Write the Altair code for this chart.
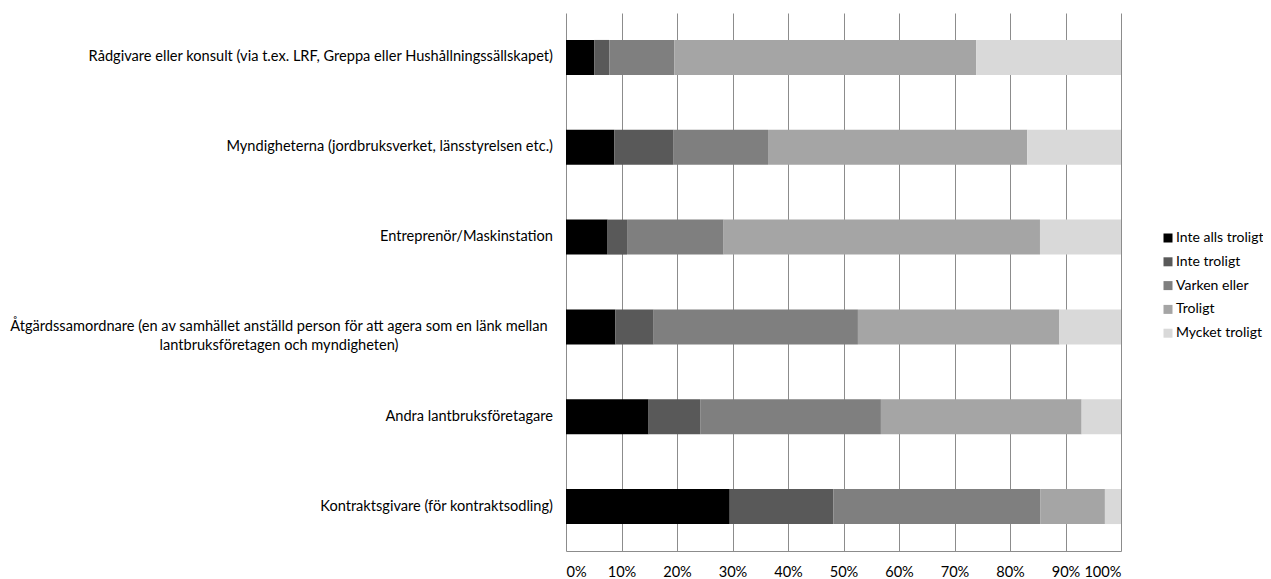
import altair as alt
import pandas as pd

categories = [
    "Rådgivare eller konsult (via t.ex. LRF, Greppa eller Hushållningssällskapet)",
    "Myndigheterna (jordbruksverket, länsstyrelsen etc.)",
    "Entreprenör/Maskinstation",
    "Åtgärdssamordnare (en av samhället anställd person för att agera som en länk mellan\nlantbruksföretagen och myndigheten)",
    "Andra lantbruksföretagare",
    "Kontraktsgivare (för kontraktsodling)",
]
series = ["Inte alls troligt", "Inte troligt", "Varken eller", "Troligt", "Mycket troligt"]
colors = ["#000000", "#595959", "#7f7f7f", "#a5a5a5", "#d9d9d9"]

inte_alls_troligt = [5.1, 8.7, 7.5, 8.9, 14.9, 29.5]
inte_troligt = [2.7, 10.7, 3.5, 6.9, 9.3, 18.7]
varken_eller = [11.7, 17.0, 17.4, 36.8, 32.6, 37.3]
troligt = [54.4, 46.7, 57.0, 36.3, 36.2, 11.6]
mycket_troligt = [26.1, 16.9, 14.6, 11.1, 7.1, 2.9]

values = [inte_alls_troligt, inte_troligt, varken_eller, troligt, mycket_troligt]
rows = []
for si, (s, vals) in enumerate(zip(series, values)):
    for c, v in zip(categories, vals):
        rows.append({"cat": c, "series": s, "value": v, "order": si})
df = pd.DataFrame(rows)

lab = pd.DataFrame({"cat": categories, "wrapped": ["\n" in c for c in categories]})

FONT = "Lato"
FS = 14.6
ysc = alt.Scale(domain=categories, paddingInner=0.61, paddingOuter=0.3)

bars = alt.Chart(df).mark_bar().encode(
    x=alt.X("value:Q", stack="normalize", title=None,
            scale=alt.Scale(domain=[0, 1], nice=False),
            axis=alt.Axis(format=".0%", values=[i / 10 for i in range(11)],
                          grid=True, gridColor="#8c8c8c", gridWidth=1,
                          domainColor="#8c8c8c", ticks=False, labelPadding=13,
                          labelFont=FONT, labelFontSize=FS, labelColor="#000000")),
    y=alt.Y("cat:N", scale=ysc, title=None,
            axis=alt.Axis(labels=False, ticks=False, domainColor="#8c8c8c", grid=False)),
    color=alt.Color("series:N", scale=alt.Scale(domain=series, range=colors),
                    legend=alt.Legend(title=None, orient="none", legendX=595, legendY=218,
                                      symbolType="square", symbolSize=81, symbolStrokeWidth=0,
                                      labelFont=FONT, labelFontSize=14, labelColor="#000000",
                                      rowPadding=9.8, labelOffset=1)),
    order=alt.Order("order:Q"),
)

txt_right = alt.Chart(lab).transform_filter("!datum.wrapped").mark_text(
    align="right", baseline="middle", font=FONT, fontSize=FS, color="#000000"
).encode(
    y=alt.Y("cat:N", scale=ysc, axis=None),
    x=alt.value(-13),
    text="cat:N",
)

txt_center = alt.Chart(lab).transform_filter("datum.wrapped").mark_text(
    align="center", baseline="middle", font=FONT, fontSize=FS, color="#000000",
    lineBreak="\n", lineHeight=19
).encode(
    y=alt.Y("cat:N", scale=ysc, axis=None),
    x=alt.value(-287),
    text="cat:N",
)

chart = alt.layer(bars, txt_right, txt_center).properties(
    width=555, height=538,
    autosize=alt.AutoSizeParams(type="none"),
    padding={"left": 558, "top": 5, "right": 142, "bottom": 27},
).configure_view(stroke=None)

chart.save("out.html", embed_options={"renderer": "svg", "actions": False})
